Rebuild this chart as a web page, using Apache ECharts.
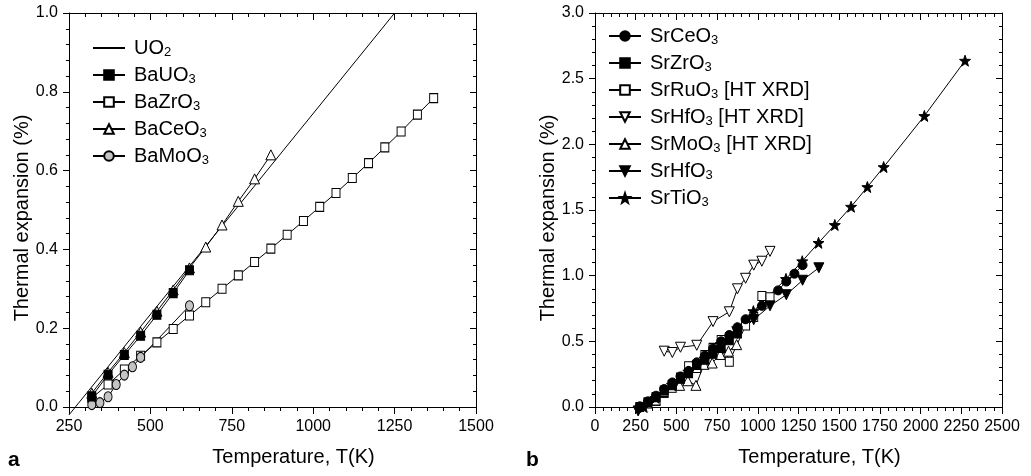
<!DOCTYPE html>
<html>
<head>
<meta charset="utf-8">
<script src="https://cdn.jsdelivr.net/npm/echarts@6/dist/echarts.min.js"></script>
<style>
  html, body { margin: 0; padding: 0; background: #fff; }
  #chart { width: 1031px; height: 476px; }
</style>
</head>
<body>
<div id="chart"></div>
<script>
// ---- panel a : Ba perovskites ----
const uo2T = [250, 1250];
const uo2V = [-0.02, 1.0];

const bauo3T = [320, 370, 420, 470, 520, 570, 620];
const bauo3V = [0.027, 0.082, 0.132, 0.181, 0.234, 0.289, 0.347];

const bazro3T = [320, 370, 420, 470, 520, 570, 620, 670, 720, 770, 820, 870, 920, 970, 1020, 1070, 1120, 1170, 1220, 1270, 1320, 1370];
const bazro3V = [0.023, 0.057, 0.095, 0.130, 0.164, 0.198, 0.232, 0.266, 0.300, 0.334, 0.368, 0.402, 0.437, 0.472, 0.508, 0.543, 0.581, 0.619, 0.659, 0.699, 0.742, 0.784];

const baceo3T = [320, 370, 420, 470, 520, 570, 620, 670, 720, 770, 820, 870];
const baceo3V = [0.035, 0.088, 0.138, 0.190, 0.243, 0.297, 0.353, 0.406, 0.462, 0.522, 0.579, 0.640];

const bamoo3T = [320, 345, 370, 395, 420, 445, 470, 620];
const bamoo3V = [0.006, 0.011, 0.026, 0.057, 0.081, 0.102, 0.126, 0.257];

// ---- panel b : Sr perovskites ----
const srceo3T = [275, 325, 375, 425, 475, 525, 575, 625, 675, 725, 775, 825, 875, 925, 1025, 1125, 1175, 1225, 1275];
const srceo3V = [0.005, 0.043, 0.086, 0.137, 0.187, 0.233, 0.275, 0.34, 0.39, 0.445, 0.50, 0.548, 0.607, 0.668, 0.77, 0.888, 0.955, 1.015, 1.08];

const srzro3T = [275, 325, 375, 425, 475, 525, 575, 625, 675, 725, 775, 825, 875];
const srzro3V = [0.0, 0.035, 0.075, 0.125, 0.17, 0.215, 0.258, 0.32, 0.36, 0.405, 0.45, 0.508, 0.56];

const srruo3T = [375, 425, 475, 525, 575, 625, 675, 725, 775, 825, 925, 975, 1025, 1075];
const srruo3V = [0.05, 0.115, 0.165, 0.225, 0.31, 0.297, 0.395, 0.45, 0.51, 0.345, 0.62, 0.685, 0.845, 0.835];

const srhfo3xT = [425, 475, 525, 625, 725, 825, 875, 925, 975, 1025, 1075];
const srhfo3xV = [0.425, 0.415, 0.455, 0.47, 0.65, 0.725, 0.9, 0.98, 1.08, 1.11, 1.185];

const srmoo3T = [320, 370, 420, 470, 520, 570, 620, 670, 720, 770, 820, 870];
const srmoo3V = [0.03, 0.05, 0.11, 0.15, 0.165, 0.2, 0.165, 0.325, 0.335, 0.4, 0.425, 0.475];

const srhfo3T = [265, 875, 975, 1075, 1175, 1275, 1375];
const srhfo3V = [-0.03, 0.56, 0.665, 0.77, 0.855, 0.965, 1.06];

const srtio3T = [300, 373, 473, 573, 673, 773, 873, 973, 1173, 1273, 1373, 1473, 1573, 1673, 1773, 2023, 2273];
const srtio3V = [0.0, 0.07, 0.17, 0.27, 0.37, 0.48, 0.6, 0.73, 0.975, 1.11, 1.25, 1.386, 1.525, 1.675, 1.827, 2.216, 2.637];

const FONT = '"Liberation Sans", Arial, sans-serif';
const STAR = 'path://M0,-10L2.35,-3.24L9.51,-3.09L3.8,1.24L5.88,8.09L0,4L-5.88,8.09L-3.8,1.24L-9.51,-3.09L-2.35,-3.24Z';

const zip = (xs, ys) => xs.map((x, i) => [x, ys[i]]);
// put chemical formula digits as subscripts
const chem = name => name.replace(/([A-Za-z])(\d)/g, '$1{s|$2}');

function xAxis(grid, min, max, top) {
  return {
    type: 'value', gridIndex: grid, min: min, max: max, interval: 250,
    position: top ? 'top' : 'bottom',
    axisLine: { onZero: false, lineStyle: { color: '#000', width: 1 } },
    axisTick: { inside: !!top, length: 7, lineStyle: { color: '#000' } },
    minorTick: { show: true, splitNumber: 5, length: 4, lineStyle: { color: '#000' } },
    splitLine: { show: false },
    axisLabel: { show: !top, color: '#000', fontSize: 16, fontFamily: FONT, margin: 12,
      formatter: v => String(v) },
    name: top ? '' : 'Temperature, T(K)',
    nameLocation: 'middle', nameGap: 40, nameMoveOverlap: false,
    nameTextStyle: { color: '#000', fontSize: 20, fontFamily: FONT, padding: [0, 0, 0, 42] }
  };
}

function yAxis(grid, max, step, right) {
  return {
    type: 'value', gridIndex: grid, min: 0, max: max, interval: step,
    position: right ? 'right' : 'left',
    axisLine: { onZero: false, lineStyle: { color: '#000', width: 1 } },
    axisTick: { inside: !!right, length: 6, lineStyle: { color: '#000' } },
    minorTick: { show: true, splitNumber: 5, length: 3, lineStyle: { color: '#000' } },
    splitLine: { show: false },
    axisLabel: { show: !right, color: '#000', fontSize: 16, fontFamily: FONT, margin: 11,
      formatter: v => v.toFixed(1) },
    name: right ? '' : 'Thermal expansion (%)',
    nameLocation: 'middle', nameGap: 37, nameRotate: 90, nameMoveOverlap: false,
    nameTextStyle: { color: '#000', fontSize: 20, fontFamily: FONT, padding: [0, 16, 0, 0] }
  };
}

function series(name, xs, ys, ax, symbol, fill, size, rotate) {
  return {
    name: name, type: 'line', data: zip(xs, ys),
    xAxisIndex: ax, yAxisIndex: ax,
    symbol: symbol, symbolSize: size, symbolRotate: rotate || 0,
    showSymbol: symbol !== 'none', clip: false,
    lineStyle: { color: '#000', width: 1 },
    itemStyle: { color: fill, borderColor: '#000', borderWidth: 1 },
    emphasis: { disabled: true }
  };
}

function legend(names, left, top) {
  return {
    data: names, orient: 'vertical', left: left, top: top, padding: 0,
    itemWidth: 32, itemHeight: 12, itemGap: 5, selectedMode: false,
    formatter: chem,
    textStyle: {
      color: '#000', fontSize: 20, fontFamily: FONT, lineHeight: 22, padding: [0, 0, 0, 4],
      rich: { s: { color: '#000', fontSize: 13, fontFamily: FONT, lineHeight: 3, verticalAlign: 'bottom' } }
    }
  };
}

const chart = echarts.init(document.getElementById('chart'));
chart.setOption({
  animation: false,
  backgroundColor: '#fff',
  grid: [
    { left: 69, top: 13, width: 407, height: 394 },
    { left: 595, top: 13, width: 407, height: 394 }
  ],
  xAxis: [xAxis(0, 250, 1500, false), xAxis(0, 250, 1500, true), xAxis(1, 0, 2500, false), xAxis(1, 0, 2500, true)],
  yAxis: [yAxis(0, 1.0, 0.2, false), yAxis(0, 1.0, 0.2, true), yAxis(1, 3.0, 0.5, false), yAxis(1, 3.0, 0.5, true)],
  legend: [
    legend([{ name: 'UO2', itemStyle: { opacity: 0 } }, 'BaUO3', 'BaZrO3', 'BaCeO3', 'BaMoO3'], 92, 37),
    legend(['SrCeO3', 'SrZrO3', 'SrRuO3 [HT XRD]', 'SrHfO3 [HT XRD]', 'SrMoO3 [HT XRD]', 'SrHfO3', 'SrTiO3'], 608, 25)
  ],
  graphic: [
    { type: 'text', left: 8, top: 450, style: { text: 'a', font: 'bold 21px "Liberation Sans", Arial', fill: '#000' } },
    { type: 'text', left: 526, top: 450, style: { text: 'b', font: 'bold 21px "Liberation Sans", Arial', fill: '#000' } }
  ],
  series: [
    series('UO2', uo2T, uo2V, 0, 'none', '#000', 0),
    series('BaZrO3', bazro3T, bazro3V, 0, 'rect', '#fff', [8, 9]),
    series('BaMoO3', bamoo3T, bamoo3V, 0, 'circle', '#c4c4c4', [8, 10]),
    series('BaCeO3', baceo3T, baceo3V, 0, 'triangle', '#fff', 10),
    series('BaUO3', bauo3T, bauo3V, 0, 'rect', '#000', [8, 9]),

    series('SrMoO3 [HT XRD]', srmoo3T, srmoo3V, 2, 'triangle', '#fff', 10),
    series('SrRuO3 [HT XRD]', srruo3T, srruo3V, 2, 'rect', '#fff', [8, 9]),
    series('SrHfO3 [HT XRD]', srhfo3xT, srhfo3xV, 2, 'triangle', '#fff', 10, 180),
    series('SrZrO3', srzro3T, srzro3V, 2, 'rect', '#000', [8, 9]),
    series('SrHfO3', srhfo3T, srhfo3V, 2, 'triangle', '#000', 10, 180),
    series('SrCeO3', srceo3T, srceo3V, 2, 'circle', '#000', 9),
    series('SrTiO3', srtio3T, srtio3V, 2, STAR, '#000', 11)
  ]
});
</script>
</body>
</html>
